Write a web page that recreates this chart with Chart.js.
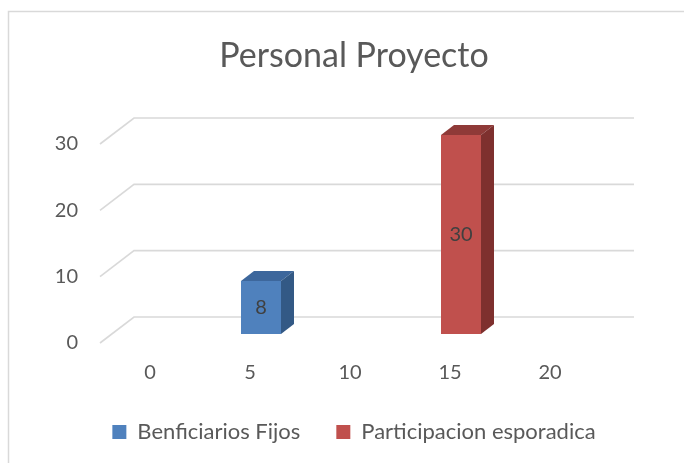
<!DOCTYPE html>
<html>
<head>
<meta charset="utf-8">
<script src="https://cdn.jsdelivr.net/npm/chart.js@4"></script>
<style>
html,body{margin:0;padding:0;background:#fff;}
canvas{display:block;}
</style>
</head>
<body>
<canvas id="c" width="684" height="463"></canvas>
<script>
const categories = ['0', '5', '10', '15', '20'];
const seriesNames = ['Benficiarios Fijos', 'Participacion esporadica'];
const fijosValues = [null, 8, null, null, null];
const esporadicaValues = [null, null, null, 30, null];
const yTicks = [0, 10, 20, 30];

const FONT = 'Lato, "Open Sans", sans-serif';
const DEPTH_X = 13, DEPTH_Y = 10;
const faces = [
  {front: '#4F81BD', top: '#3D679C', side: '#335985'},
  {front: '#C0504D', top: '#8F3A38', side: '#7E302E'}
];

const decor = {
  id: 'decor',
  beforeDraw(chart) {
    const ctx = chart.ctx;
    ctx.save();
    ctx.fillStyle = '#fff';
    ctx.fillRect(0, 0, chart.width, chart.height);
    ctx.strokeStyle = '#D9D9D9';
    ctx.lineWidth = 1.5;
    ctx.beginPath();
    ctx.moveTo(8.5, chart.height);
    ctx.lineTo(8.5, 11.5);
    ctx.lineTo(chart.width, 11.5);
    ctx.stroke();
    ctx.restore();
  },
  beforeDatasetsDraw(chart) {
    const ctx = chart.ctx, y = chart.scales.y, a = chart.chartArea;
    ctx.save();
    ctx.strokeStyle = '#D9D9D9';
    ctx.lineWidth = 1.6;
    yTicks.forEach(v => {
      const p = y.getPixelForValue(v);
      ctx.beginPath();
      ctx.moveTo(a.left - 11, p + 9);
      ctx.lineTo(a.left + 23, p - 17);
      ctx.lineTo(a.right + 23, p - 17);
      ctx.stroke();
    });
    ctx.restore();
  },
  afterDatasetsDraw(chart) {
    const ctx = chart.ctx;
    ctx.save();
    chart.data.datasets.forEach((ds, di) => {
      const meta = chart.getDatasetMeta(di);
      meta.data.forEach((bar, i) => {
        const v = ds.data[i];
        if (v === null || v === undefined) return;
        const p = bar.getProps(['x', 'y', 'base', 'width'], true);
        const l = p.x - p.width / 2, r = p.x + p.width / 2;
        const t = p.y, b = p.base;
        ctx.fillStyle = faces[di].top;
        ctx.beginPath();
        ctx.moveTo(l, t);
        ctx.lineTo(r, t);
        ctx.lineTo(r + DEPTH_X, t - DEPTH_Y);
        ctx.lineTo(l + DEPTH_X, t - DEPTH_Y);
        ctx.closePath();
        ctx.fill();
        ctx.fillStyle = faces[di].side;
        ctx.beginPath();
        ctx.moveTo(r, t);
        ctx.lineTo(r + DEPTH_X, t - DEPTH_Y);
        ctx.lineTo(r + DEPTH_X, b - DEPTH_Y);
        ctx.lineTo(r, b);
        ctx.closePath();
        ctx.fill();
        ctx.fillStyle = '#404040';
        ctx.font = '20px ' + FONT;
        ctx.textAlign = 'center';
        ctx.textBaseline = 'middle';
        ctx.fillText(String(v), p.x, (t + b) / 2);
      });
    });
    ctx.restore();
  }
};

new Chart(document.getElementById('c'), {
  type: 'bar',
  data: {
    labels: categories,
    datasets: [
      {label: seriesNames[0], data: fijosValues, backgroundColor: faces[0].front, borderWidth: 0},
      {label: seriesNames[1], data: esporadicaValues, backgroundColor: faces[1].front, borderWidth: 0}
    ]
  },
  options: {
    responsive: false,
    animation: false,
    devicePixelRatio: 1,
    skipNull: true,
    barPercentage: 0.4,
    categoryPercentage: 1.0,
    layout: {padding: {left: 24, right: 0, top: 0, bottom: 10}},
    plugins: {
      tooltip: {enabled: false},
      title: {
        display: true,
        text: 'Personal Proyecto',
        color: '#595959',
        font: {family: FONT, size: 34, weight: 'normal'},
        padding: {top: 36, bottom: 58.2}
      },
      legend: {
        position: 'bottom',
        labels: {
          color: '#595959',
          font: {family: FONT, size: 22},
          boxWidth: 14,
          boxHeight: 14,
          padding: 36
        }
      }
    },
    scales: {
      x: {
        grid: {display: false, drawTicks: false},
        border: {display: false},
        ticks: {color: '#595959', font: {family: FONT, size: 20}, padding: 27, labelOffset: -11, maxRotation: 0},
        afterFit(s) { s.height = 51; }
      },
      y: {
        min: 0,
        max: 30,
        grid: {display: false, drawTicks: false},
        border: {display: false},
        ticks: {color: '#595959', font: {family: FONT, size: 20}, stepSize: 10, padding: 33, labelOffset: 9},
        afterFit(s) { s.width = 87; }
      },
      y2: {
        type: 'linear',
        position: 'right',
        display: true,
        grid: {display: false, drawTicks: false},
        border: {display: false},
        ticks: {display: false},
        afterFit(s) { s.width = 73; }
      }
    }
  },
  plugins: [decor]
});
</script>
</body>
</html>
